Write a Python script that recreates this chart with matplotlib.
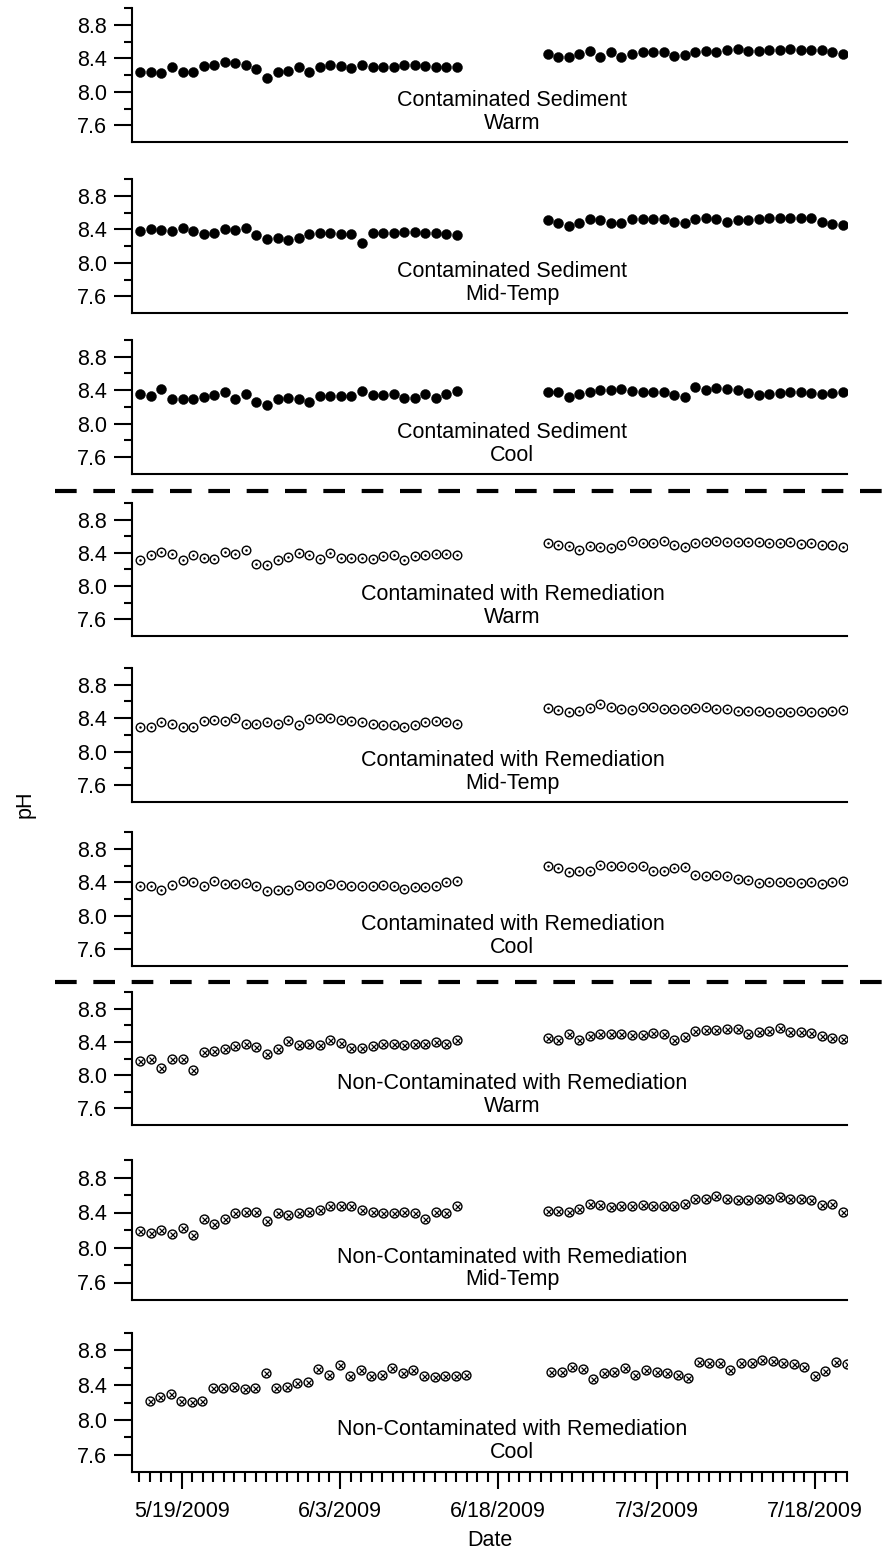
import numpy as np
import pandas as pd
import matplotlib
matplotlib.use("Agg")
import matplotlib.pyplot as plt
import matplotlib.dates as mdates
from matplotlib.lines import Line2D
from matplotlib.ticker import FixedLocator, FuncFormatter

plt.rcParams['font.family'] = ['Liberation Sans', 'DejaVu Sans']

# pH readings, two sampling runs per treatment
cs_warm_1 = [8.23, 8.24, 8.22, 8.29, 8.24, 8.23, 8.31, 8.32, 8.36, 8.34, 8.32, 8.27, 8.17, 8.24, 8.25, 8.29,
             8.24, 8.29, 8.32, 8.31, 8.28, 8.32, 8.30, 8.30, 8.30, 8.32, 8.32, 8.31, 8.30, 8.30, 8.29]
cs_warm_2 = [8.45, 8.42, 8.41, 8.45, 8.49, 8.41, 8.48, 8.41, 8.45, 8.47, 8.47, 8.47, 8.43, 8.44, 8.48,
             8.49, 8.48, 8.50, 8.51, 8.49, 8.49, 8.50, 8.50, 8.51, 8.50, 8.50, 8.50, 8.47, 8.45]

cs_mid_1 = [8.38, 8.40, 8.39, 8.38, 8.41, 8.38, 8.34, 8.35, 8.40, 8.39, 8.41, 8.33, 8.28, 8.30, 8.27, 8.29,
            8.34, 8.36, 8.35, 8.34, 8.34, 8.24, 8.36, 8.36, 8.36, 8.37, 8.37, 8.36, 8.35, 8.34, 8.33]
cs_mid_2 = [8.51, 8.47, 8.44, 8.48, 8.52, 8.51, 8.48, 8.48, 8.52, 8.52, 8.52, 8.52, 8.49, 8.48, 8.52,
            8.54, 8.52, 8.49, 8.51, 8.51, 8.52, 8.53, 8.53, 8.53, 8.53, 8.54, 8.49, 8.46, 8.45]

cs_cool_1 = [8.36, 8.33, 8.41, 8.29, 8.29, 8.29, 8.32, 8.34, 8.38, 8.29, 8.35, 8.26, 8.22, 8.30, 8.31, 8.29,
             8.26, 8.33, 8.33, 8.33, 8.33, 8.39, 8.34, 8.34, 8.36, 8.31, 8.31, 8.35, 8.31, 8.35, 8.39]
cs_cool_2 = [8.38, 8.38, 8.32, 8.36, 8.38, 8.40, 8.40, 8.41, 8.39, 8.38, 8.38, 8.38, 8.34, 8.32, 8.44,
             8.40, 8.43, 8.41, 8.40, 8.37, 8.34, 8.35, 8.37, 8.38, 8.38, 8.37, 8.36, 8.37, 8.38]

cr_warm_1 = [8.31, 8.37, 8.41, 8.39, 8.32, 8.37, 8.34, 8.33, 8.41, 8.39, 8.44, 8.27, 8.26, 8.32, 8.35, 8.40,
             8.37, 8.33, 8.40, 8.34, 8.34, 8.34, 8.33, 8.36, 8.37, 8.31, 8.36, 8.37, 8.39, 8.39, 8.37]
cr_warm_2 = [8.52, 8.49, 8.48, 8.44, 8.48, 8.47, 8.46, 8.50, 8.54, 8.52, 8.52, 8.54, 8.49, 8.47, 8.52,
             8.53, 8.54, 8.53, 8.53, 8.53, 8.53, 8.52, 8.52, 8.53, 8.51, 8.52, 8.50, 8.50, 8.47]

cr_mid_1 = [8.30, 8.30, 8.36, 8.33, 8.29, 8.29, 8.37, 8.38, 8.37, 8.40, 8.33, 8.33, 8.36, 8.33, 8.38, 8.32,
            8.39, 8.40, 8.40, 8.38, 8.37, 8.36, 8.33, 8.32, 8.32, 8.30, 8.32, 8.35, 8.37, 8.36, 8.33]
cr_mid_2 = [8.52, 8.50, 8.48, 8.49, 8.52, 8.57, 8.53, 8.51, 8.50, 8.54, 8.53, 8.51, 8.51, 8.51, 8.52,
            8.53, 8.51, 8.51, 8.49, 8.49, 8.49, 8.48, 8.48, 8.48, 8.49, 8.47, 8.48, 8.49, 8.50]

cr_cool_1 = [8.35, 8.35, 8.31, 8.37, 8.41, 8.40, 8.35, 8.41, 8.38, 8.38, 8.39, 8.35, 8.29, 8.31, 8.31, 8.37,
             8.35, 8.35, 8.38, 8.37, 8.35, 8.35, 8.35, 8.37, 8.36, 8.32, 8.34, 8.34, 8.35, 8.40, 8.41]
cr_cool_2 = [8.60, 8.57, 8.52, 8.53, 8.54, 8.61, 8.60, 8.59, 8.58, 8.60, 8.54, 8.53, 8.57, 8.58, 8.49,
             8.47, 8.49, 8.47, 8.44, 8.43, 8.39, 8.40, 8.40, 8.40, 8.39, 8.40, 8.38, 8.40, 8.42]

nc_warm_1 = [8.17, 8.20, 8.09, 8.20, 8.20, 8.06, 8.28, 8.29, 8.32, 8.35, 8.37, 8.34, 8.26, 8.31, 8.41, 8.36,
             8.37, 8.36, 8.42, 8.39, 8.33, 8.33, 8.35, 8.37, 8.38, 8.36, 8.37, 8.38, 8.40, 8.37, 8.42]
nc_warm_2 = [8.45, 8.42, 8.49, 8.42, 8.47, 8.50, 8.50, 8.49, 8.48, 8.48, 8.51, 8.50, 8.42, 8.46, 8.53,
             8.54, 8.54, 8.56, 8.55, 8.49, 8.52, 8.53, 8.57, 8.52, 8.52, 8.51, 8.47, 8.45, 8.44]

nc_mid_1 = [8.19, 8.17, 8.20, 8.15, 8.22, 8.14, 8.33, 8.27, 8.33, 8.39, 8.41, 8.41, 8.30, 8.40, 8.37, 8.40,
            8.41, 8.43, 8.48, 8.48, 8.47, 8.43, 8.41, 8.39, 8.40, 8.41, 8.40, 8.33, 8.41, 8.39, 8.48]
nc_mid_2 = [8.42, 8.42, 8.41, 8.44, 8.50, 8.49, 8.46, 8.47, 8.48, 8.49, 8.48, 8.47, 8.47, 8.50, 8.56,
            8.55, 8.59, 8.55, 8.54, 8.54, 8.55, 8.56, 8.58, 8.56, 8.55, 8.54, 8.49, 8.50, 8.41]

nc_cool_1 = [8.22, 8.26, 8.30, 8.22, 8.21, 8.22, 8.37, 8.37, 8.38, 8.35, 8.37, 8.54, 8.37, 8.38, 8.42, 8.44,
             8.58, 8.52, 8.63, 8.50, 8.57, 8.50, 8.52, 8.60, 8.54, 8.57, 8.50, 8.49, 8.50, 8.50, 8.52]
nc_cool_2 = [8.55, 8.55, 8.61, 8.58, 8.47, 8.54, 8.55, 8.60, 8.52, 8.57, 8.55, 8.54, 8.52, 8.48, 8.67,
             8.65, 8.65, 8.57, 8.65, 8.65, 8.69, 8.68, 8.65, 8.64, 8.61, 8.51, 8.56, 8.67, 8.64]

run1_start = pd.Timestamp('2009-05-15 02:00')
run2_start = pd.Timestamp('2009-06-22 16:00')
last_run1_start = pd.Timestamp('2009-05-15 23:00')
last_run2_start = pd.Timestamp('2009-06-23 00:00')

tick_dates = ['2009-05-19', '2009-06-03', '2009-06-18', '2009-07-03', '2009-07-18']
x_min = pd.Timestamp('2009-05-14 07:00')
x_max = pd.Timestamp('2009-07-21 01:00')

panels = [
    ("Contaminated Sediment\nWarm", cs_warm_1, cs_warm_2, "solid"),
    ("Contaminated Sediment\nMid-Temp", cs_mid_1, cs_mid_2, "solid"),
    ("Contaminated Sediment\nCool", cs_cool_1, cs_cool_2, "solid"),
    ("Contaminated with Remediation\nWarm", cr_warm_1, cr_warm_2, "dot"),
    ("Contaminated with Remediation\nMid-Temp", cr_mid_1, cr_mid_2, "dot"),
    ("Contaminated with Remediation\nCool", cr_cool_1, cr_cool_2, "dot"),
    ("Non-Contaminated with Remediation\nWarm", nc_warm_1, nc_warm_2, "cross"),
    ("Non-Contaminated with Remediation\nMid-Temp", nc_mid_1, nc_mid_2, "cross"),
    ("Non-Contaminated with Remediation\nCool", nc_cool_1, nc_cool_2, "cross"),
]

# panel top / bottom edges in pixels
panel_px = [(8, 142), (179, 313), (340, 474), (503, 636), (668, 802),
            (832, 966), (992, 1125), (1160, 1300), (1333, 1472)]

W, H = 893, 1555
fig = plt.figure(figsize=(W / 100, H / 100), dpi=100)
left_px, right_px = 132, 847
fs = 15.5


def draw_marks(ax, x, y, style):
    if style == "solid":
        ax.plot(x, y, 'o', ms=7.2, color='black', mec='black', mew=0.3, ls='none', zorder=3)
    elif style == "dot":
        ax.plot(x, y, 'o', ms=6.2, mfc='white', mec='black', mew=1.0, ls='none', zorder=3)
        ax.plot(x, y, '.', ms=1.6, color='black', ls='none', zorder=4)
    else:
        ax.plot(x, y, 'o', ms=6.4, mfc='white', mec='black', mew=1.0, ls='none', zorder=3)
        ax.plot(x, y, 'x', ms=3.6, color='black', mew=0.9, ls='none', zorder=4)


for i, (label, run1, run2, style) in enumerate(panels):
    top, bot = panel_px[i]
    ax = fig.add_axes([left_px / W, 1 - bot / H, (right_px - left_px) / W, (bot - top) / H])
    last = i == len(panels) - 1
    s1 = last_run1_start if last else run1_start
    s2 = last_run2_start if last else run2_start
    x1 = pd.date_range(s1, periods=len(run1), freq='D')
    x2 = pd.date_range(s2, periods=len(run2), freq='D')
    draw_marks(ax, x1, run1, style)
    draw_marks(ax, x2, run2, style)

    ax.set_xlim(x_min, x_max)
    ax.set_ylim(7.4, 9.0)
    ax.set_yticks([7.6, 8.0, 8.4, 8.8])
    ax.set_yticklabels(['7.6', '8.0', '8.4', '8.8'])
    ax.yaxis.set_minor_locator(FixedLocator([7.8, 8.2, 8.6, 9.0]))
    for side in ['top', 'right']:
        ax.spines[side].set_visible(False)
    for side in ['left', 'bottom']:
        ax.spines[side].set_linewidth(1.5)
    ax.tick_params(axis='y', which='major', direction='out', length=13, width=1.5,
                   pad=5, labelsize=fs)
    ax.tick_params(axis='y', which='minor', direction='out', length=6, width=1.5)
    ax.patch.set_visible(False)

    ax.text(0.532, 0.225, label, transform=ax.transAxes, ha='center', va='center',
            fontsize=fs, linespacing=1.12, multialignment='center')

    if last:
        ax.xaxis.set_major_locator(FixedLocator(mdates.date2num(pd.to_datetime(tick_dates))))
        ax.xaxis.set_minor_locator(mdates.DayLocator())
        ax.xaxis.set_major_formatter(FuncFormatter(
            lambda v, pos: "{0}/{1}/{2}".format(mdates.num2date(v).month,
                                                mdates.num2date(v).day,
                                                mdates.num2date(v).year)))
        ax.tick_params(axis='x', which='major', direction='out', length=12, width=1.5,
                       pad=9, labelsize=fs)
        ax.tick_params(axis='x', which='minor', direction='out', length=7, width=1.5)
    else:
        ax.tick_params(axis='x', which='both', bottom=False, labelbottom=False)

# group separators
for y_px in [490.5, 982]:
    fig.add_artist(Line2D([55 / W, 1.0], [1 - y_px / H, 1 - y_px / H], transform=fig.transFigure,
                          color='black', lw=3, linestyle=(0, (5.2, 4.0)), solid_capstyle='butt'))

fig.text(25 / W, 1 - 804 / H, 'pH', rotation=90, ha='center', va='center', fontsize=fs)
fig.text(490 / W, 1 - 1540 / H, 'Date', ha='center', va='center', fontsize=fs)

fig.savefig('out.png', dpi=100)
